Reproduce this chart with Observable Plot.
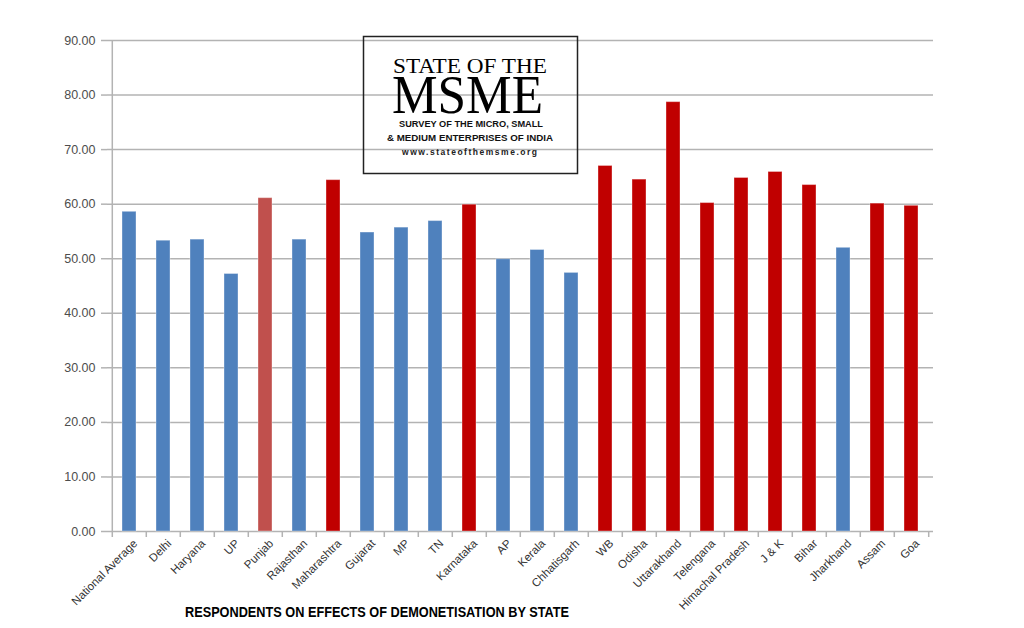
<!DOCTYPE html>
<html>
<head>
<meta charset="utf-8">
<script src="https://cdn.jsdelivr.net/npm/d3@7"></script>
<script src="https://cdn.jsdelivr.net/npm/@observablehq/plot@0.6"></script>
<style>
  html, body { margin: 0; padding: 0; background: #fff; }
  #wrap { position: relative; width: 1024px; height: 628px; overflow: hidden; }
  #chart { position: absolute; left: 0; top: 0; }
  #overlay { position: absolute; left: 0; top: 0; pointer-events: none; }
</style>
</head>
<body>
<div id="wrap">
  <div id="chart"></div>
  <svg id="overlay" width="1024" height="628" xmlns="http://www.w3.org/2000/svg">
    <rect x="363.5" y="36.5" width="214" height="137" fill="none" stroke="#222" stroke-width="1.5"></rect>
    <text x="393" y="73" font-family="Liberation Serif, DejaVu Serif, serif" font-size="20" fill="#000" textLength="154" lengthAdjust="spacingAndGlyphs">STATE OF THE</text>
    <text x="392" y="113" font-family="Liberation Serif, DejaVu Serif, serif" font-size="54" fill="#000" textLength="151" lengthAdjust="spacingAndGlyphs">MSME</text>
    <text x="399" y="126.5" font-family="Liberation Sans, Arial, sans-serif" font-weight="bold" font-size="9.5" fill="#111" textLength="144" lengthAdjust="spacingAndGlyphs">SURVEY OF THE MICRO, SMALL</text>
    <text x="387" y="141" font-family="Liberation Sans, Arial, sans-serif" font-weight="bold" font-size="9.5" fill="#111" textLength="166" lengthAdjust="spacingAndGlyphs">&amp; MEDIUM ENTERPRISES OF INDIA</text>
    <text x="402" y="155" font-family="Liberation Sans, Arial, sans-serif" font-weight="bold" font-size="8.5" fill="#222" textLength="135" lengthAdjust="spacing">www.stateofthemsme.org</text>
    <text x="185" y="617" font-family="Liberation Sans Narrow, Arial Narrow, Liberation Sans, Arial, sans-serif" font-weight="bold" font-size="15" fill="#000" textLength="384" lengthAdjust="spacingAndGlyphs">RESPONDENTS ON EFFECTS OF DEMONETISATION BY STATE</text>
  </svg>
</div>
<script>
const states = ["National Average","Delhi","Haryana","UP","Punjab","Rajasthan","Maharashtra","Gujarat","MP","TN","Karnataka","AP","Kerala","Chhatisgarh","WB","Odisha","Uttarakhand","Telengana","Himachal Pradesh","J & K","Bihar","Jharkhand","Assam","Goa"];
const values = [58.6,53.3,53.5,47.2,61.1,53.5,64.4,54.8,55.7,56.9,59.9,49.9,51.6,47.4,67.0,64.5,78.7,60.2,64.8,65.9,63.5,52.0,60.1,59.7];
const groups = ["blue","blue","blue","blue","punjab","blue","red","blue","blue","blue","red","blue","blue","blue","red","red","red","red","red","red","red","blue","red","red"];
const yTicks = [0,10,20,30,40,50,60,70,80,90];
const groupDomain = ["blue","punjab","red"];
const groupColors = ["#4F81BD","#C0504D","#C00000"];

const data = states.map((s, i) => ({state: s, value: values[i], group: groups[i]}));

const W = 1024, ML = 107, MR = 91;
const half = (W - ML - MR) / states.length / 2;
const gray = "#b3b3b3";

const chart = Plot.plot({
  width: W,
  height: 595,
  marginTop: 40,
  marginBottom: 64,
  marginLeft: ML,
  marginRight: MR,
  style: {fontFamily: "Liberation Sans, Arial, sans-serif", background: "transparent", overflow: "visible"},
  x: {domain: states, paddingInner: 0.6, paddingOuter: 0.3, axis: null, label: null},
  y: {domain: [0, 90], axis: null, label: null},
  color: {domain: groupDomain, range: groupColors},
  marks: [
    Plot.ruleY(yTicks, {stroke: gray, strokeWidth: 1.5}),
    Plot.axisY({ticks: yTicks, label: null, tickFormat: d => d.toFixed(2), tickSize: 6, tickPadding: 6, stroke: gray, strokeWidth: 1.5, fill: "#4d4d4d", fontSize: 12.5, strokeOpacity: 1}),
    Plot.ruleX([states[0]], {dx: -half, y1: 0, y2: 90, stroke: gray, strokeWidth: 1.5}),
    Plot.axisX({ticks: states, label: null, tickSize: 6, tickFormat: () => "", dx: -half, stroke: gray, strokeWidth: 1.5, strokeOpacity: 1}),
    Plot.axisX({ticks: [states[states.length - 1]], label: null, tickSize: 6, tickFormat: () => "", dx: half, stroke: gray, strokeWidth: 1.5, strokeOpacity: 1}),
    Plot.barY(data, {x: "state", y: "value", fill: "group", stroke: "#ffffff", strokeOpacity: 0.35, strokeWidth: 1}),
    Plot.axisX({ticks: states, label: null, tickSize: 0, tickPadding: 10, dx: 6, tickRotate: -45, textAnchor: "end", fontSize: 11.5, fill: "#333"})
  ]
});
document.getElementById("chart").appendChild(chart);
</script>
</body>
</html>
